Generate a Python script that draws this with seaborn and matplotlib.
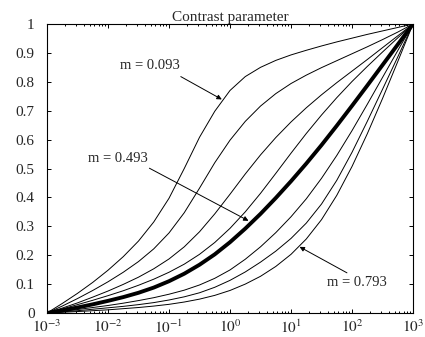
import numpy as np
import pandas as pd
import matplotlib
matplotlib.use("Agg")
import matplotlib.pyplot as plt
from matplotlib.ticker import LogLocator, NullFormatter, FixedLocator
import seaborn as sns

# x positions: quarter decades from 1e-3 to 1e3
log_x = [-3, -2.75, -2.5, -2.25, -2, -1.75, -1.5, -1.25, -1, -0.75, -0.5, -0.25, 0,
         0.25, 0.5, 0.75, 1, 1.25, 1.5, 1.75, 2, 2.25, 2.5, 2.75, 3]

m_values = [0.093, 0.193, 0.293, 0.393, 0.493, 0.593, 0.693, 0.793]

# curve values
y_m093 = [0, 0.033, 0.068, 0.106, 0.148, 0.195, 0.249, 0.315, 0.397, 0.5, 0.608, 0.698, 0.77,
          0.818, 0.85, 0.874, 0.893, 0.909, 0.924, 0.938, 0.951, 0.964, 0.976, 0.988, 1.0]
y_m193 = [0, 0.024, 0.05, 0.078, 0.108, 0.141, 0.178, 0.222, 0.277, 0.347, 0.432, 0.52, 0.598,
          0.663, 0.716, 0.759, 0.794, 0.823, 0.849, 0.873, 0.897, 0.921, 0.946, 0.972, 1.0]
y_m293 = [0, 0.017, 0.035, 0.055, 0.076, 0.099, 0.124, 0.153, 0.187, 0.229, 0.281, 0.343, 0.411,
          0.481, 0.547, 0.607, 0.661, 0.71, 0.755, 0.797, 0.837, 0.877, 0.918, 0.959, 1.0]
y_m393 = [0, 0.014, 0.029, 0.044, 0.06, 0.077, 0.096, 0.117, 0.141, 0.169, 0.203, 0.244, 0.293,
          0.35, 0.414, 0.483, 0.553, 0.621, 0.685, 0.745, 0.801, 0.853, 0.903, 0.952, 1.0]
y_m493 = [0, 0.009, 0.019, 0.03, 0.042, 0.055, 0.07, 0.088, 0.11, 0.136, 0.167, 0.203, 0.245,
          0.292, 0.343, 0.398, 0.456, 0.517, 0.581, 0.648, 0.717, 0.787, 0.858, 0.929, 1.0]
y_m593 = [0, 0.006, 0.012, 0.019, 0.026, 0.034, 0.043, 0.053, 0.065, 0.079, 0.097, 0.12, 0.149,
          0.186, 0.229, 0.278, 0.333, 0.395, 0.466, 0.545, 0.631, 0.722, 0.815, 0.908, 1.0]
y_m693 = [0, 0.004, 0.008, 0.013, 0.018, 0.023, 0.029, 0.036, 0.045, 0.056, 0.07, 0.089, 0.113,
          0.142, 0.176, 0.214, 0.258, 0.311, 0.377, 0.459, 0.556, 0.663, 0.774, 0.886, 1.0]
y_m793 = [0, 0.0025, 0.005, 0.008, 0.011, 0.015, 0.019, 0.024, 0.03, 0.038, 0.048, 0.061, 0.078,
          0.1, 0.127, 0.161, 0.203, 0.256, 0.323, 0.407, 0.507, 0.62, 0.742, 0.87, 1.0]
curves = [y_m093, y_m193, y_m293, y_m393, y_m493, y_m593, y_m693, y_m793]

y_ticks = [0, 0.1, 0.2, 0.3, 0.4, 0.5, 0.6, 0.7, 0.8, 0.9, 1]
x_ticks = [1e-3, 1e-2, 1e-1, 1e0, 1e1, 1e2, 1e3]
x_labels = [r'$10^{-3}$', r'$10^{-2}$', r'$10^{-1}$', r'$10^{0}$', r'$10^{1}$', r'$10^{2}$', r'$10^{3}$']

sns.set_style('ticks')
plt.rcParams['font.family'] = ['Liberation Serif', 'DejaVu Serif']
plt.rcParams['mathtext.fontset'] = 'stix'

fig = plt.figure(figsize=(4.25, 3.37), dpi=100)
ax = fig.add_axes([0.1106, 0.0712, 0.8612, 0.8576])

for m, ys in zip(m_values, curves):
    df = pd.DataFrame({'x': 10.0 ** np.array(log_x), 'y': ys})
    lw = 2.8 if m == 0.493 else 0.7
    sns.lineplot(data=df, x='x', y='y', ax=ax, color='black', linewidth=lw)

ax.set_xscale('log')
ax.set_xlim(1e-3, 1e3)
ax.set_ylim(0, 1)
ax.xaxis.set_major_locator(FixedLocator(x_ticks))
ax.set_xticklabels(x_labels)
ax.xaxis.set_minor_locator(LogLocator(base=10, subs=np.arange(2, 10)))
ax.xaxis.set_minor_formatter(NullFormatter())
ax.set_yticks(y_ticks)
ax.set_yticklabels([f'{v:g}' for v in y_ticks])
ax.set_xlabel('')
ax.set_ylabel('')

ax.tick_params(which='both', direction='in', top=True, right=True, color='black', width=0.7)
ax.tick_params(which='major', length=3, labelsize=11)
ax.tick_params(axis='y', which='major', pad=9)
ax.tick_params(axis='x', which='major', pad=4)
ax.tick_params(which='minor', length=1.6)
for sp in ax.spines.values():
    sp.set_linewidth(0.8)
    sp.set_color('black')

ax.set_title('Contrast parameter', fontsize=11, pad=2)

arrow = dict(arrowstyle='-|>', color='black', lw=0.7, mutation_scale=7, shrinkA=0, shrinkB=0)
ax.annotate('', xy=(0.734, 0.739), xytext=(0.156, 0.818), arrowprops=arrow)
ax.annotate('', xy=(2.01, 0.319), xytext=(0.0477, 0.501), arrowprops=arrow)
ax.annotate('', xy=(13.8, 0.229), xytext=(82.6, 0.139), arrowprops=arrow)
ax.text(0.048, 0.855, 'm = 0.093', fontsize=10.5, ha='center', va='center')
ax.text(0.0146, 0.536, 'm = 0.493', fontsize=10.5, ha='center', va='center')
ax.text(122, 0.1055, 'm = 0.793', fontsize=10.5, ha='center', va='center')

fig.savefig('out.png', dpi=100)
